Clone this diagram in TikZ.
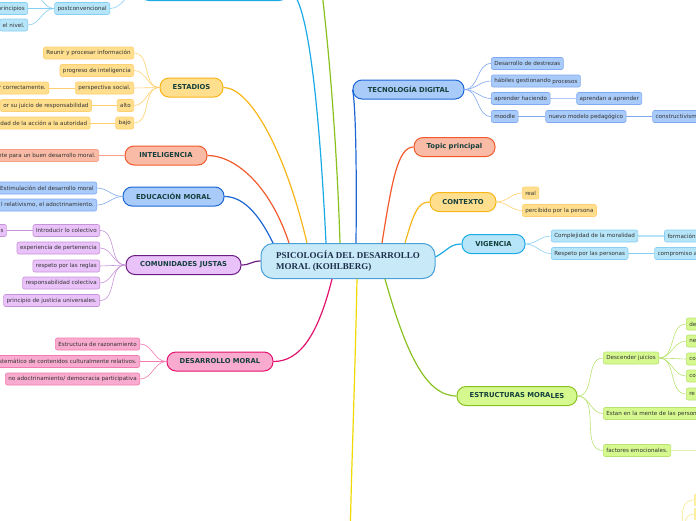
\documentclass[tikz,border=0pt]{standalone}
\usepackage{fontspec}
\setmainfont{DejaVu Sans}
\newfontfamily\rootfont{Liberation Serif}
\usepackage{tikz}
\usetikzlibrary{positioning}
\usepackage{xcolor}
\definecolor{rootfill}{RGB}{200,234,248}
\definecolor{rootline}{RGB}{74,160,216}
\definecolor{rootink}{RGB}{28,46,74}
\definecolor{mainink}{RGB}{20,63,60}
\definecolor{leafink}{RGB}{50,50,50}
\definecolor{ambar}{RGB}{247,181,23}
\definecolor{ambarfill}{RGB}{255,223,142}
\definecolor{ambarleaf}{RGB}{255,207,112}
\definecolor{coral}{RGB}{242,90,44}
\definecolor{coralfill}{RGB}{249,187,166}
\definecolor{coralleaf}{RGB}{247,160,134}
\definecolor{azul}{RGB}{28,102,214}
\definecolor{azulfill}{RGB}{169,203,249}
\definecolor{azulleaf}{RGB}{127,168,240}
\definecolor{celeste}{RGB}{26,170,230}
\definecolor{celestefill}{RGB}{182,229,249}
\definecolor{celesteleaf}{RGB}{134,206,242}
\definecolor{violeta}{RGB}{107,28,130}
\definecolor{violetafill}{RGB}{233,194,249}
\definecolor{violetaleaf}{RGB}{199,147,216}
\definecolor{rosa}{RGB}{227,18,108}
\definecolor{rosafill}{RGB}{249,171,207}
\definecolor{rosaleaf}{RGB}{242,123,176}
\definecolor{verde}{RGB}{137,194,31}
\definecolor{verdefill}{RGB}{213,249,143}
\definecolor{verdeleaf}{RGB}{185,226,113}
\definecolor{limon}{RGB}{239,217,0}
\definecolor{limonfill}{RGB}{255,243,160}
\definecolor{limonleaf}{RGB}{247,233,138}

\begin{document}
\begin{tikzpicture}[x=1pt, y=-1pt,
  root/.style={draw=rootline, fill=rootfill, line width=1pt, rounded corners=12pt,
    minimum width=174pt, minimum height=35pt, align=left, text=rootink,
    font=\rootfont\bfseries\fontsize{9}{11}\selectfont},
  topic/.style={draw=#1, fill=#1fill, line width=1pt, rounded corners=9pt,
    minimum height=19pt, inner sep=0pt, text=mainink,
    font=\bfseries\fontsize{6.8}{8}\selectfont},
  leaf/.style={draw=#1leaf, fill=#1fill, line width=0.6pt, rounded corners=2pt,
    minimum height=12pt, inner xsep=3pt, inner ysep=0pt, text=leafink,
    font=\fontsize{5.6}{6.5}\selectfont},
  trunk/.style={draw=#1, line width=1.2pt},
  twig/.style={draw=#1leaf, line width=0.6pt}]
  \useasboundingbox (0,0) rectangle (696,520);
  \clip (0,0) rectangle (696,520);

  % central topic
  \node[root] (psico) at (348,261) {PSICOLOGÍA DEL DESARROLLO\\MORAL (KOHLBERG)};

  % main topics, left side
  \node[topic=celeste, minimum width=148pt] (niveles) at (214,-9) {};
  \node[topic=ambar, minimum width=63pt] (estadios) at (191.5,87.5) {ESTADIOS};
  \node[topic=coral, minimum width=82pt] (inteligencia) at (166,155.5) {INTELIGENCIA};
  \node[topic=azul, minimum width=101pt] (educacion) at (173.5,196.5) {EDUCACIÓN MORAL};
  \node[topic=violeta, minimum width=115pt] (comunidades) at (183.5,265) {COMUNIDADES JUSTAS};
  \node[topic=rosa, minimum width=106pt] (desarrollo) at (220,361.5) {DESARROLLO MORAL};

  % main topics, right side
  \node[topic=azul, minimum width=111pt] (tecnologia) at (408.5,89.5) {TECNOLOGÍA DIGITAL};
  \node[topic=coral, minimum width=81pt] (topicp) at (454.5,147) {Topic principal};
  \node[topic=ambar, minimum width=66pt] (contexto) at (463,202) {CONTEXTO};
  \node[topic=celeste, minimum width=63pt] (vigencia) at (493.5,244) {VIGENCIA};
  \node[topic=verde, minimum width=120pt] (estructuras) at (517,396) {ESTRUCTURAS MORA\raisebox{-1pt}{LES}};

  % branches leaving the page
  \coordinate (arriba) at (318,-40);
  \coordinate (abajo) at (350,545);

  % trunks from the centre
  \draw[trunk=azul] ([xshift=-75pt]psico.north) .. controls (258,212) and (242,196.5) .. (educacion.east);
  \draw[trunk=coral] ([xshift=-59pt]psico.north) .. controls (270,185) and (235,155.5) .. (inteligencia.east);
  \draw[trunk=ambar] ([xshift=-41pt]psico.north) .. controls (285,150) and (250,87.5) .. (estadios.east);
  \draw[trunk=celeste] ([xshift=-22pt]psico.north) .. controls (318,80) and (305,-9) .. (niveles.east);
  \draw[trunk=verde] ([xshift=-8pt]psico.north) .. controls (336,120) and (326,20) .. (arriba);
  \draw[trunk=azul] ([xshift=8pt]psico.north) .. controls (357,150) and (355,100) .. (tecnologia.west);
  \draw[trunk=coral] ([xshift=34pt]psico.north) .. controls (392,180) and (398,147) .. (topicp.west);
  \draw[trunk=ambar] ([xshift=57pt]psico.north) .. controls (414,212) and (418,202) .. (contexto.west);
  \draw[trunk=celeste] ([yshift=4pt]psico.east) .. controls (448,250) and (450,244) .. (vigencia.west);
  \draw[trunk=violeta] (psico.west) .. controls (252,261) and (250,265) .. (comunidades.east);
  \draw[trunk=rosa] ([xshift=-16pt]psico.south) .. controls (318,335) and (300,361.5) .. (desarrollo.east);
  \draw[trunk=limon] ([xshift=9pt]psico.south) .. controls (355,380) and (351,480) .. (abajo);
  \draw[trunk=verde] ([xshift=37pt]psico.south) .. controls (405,350) and (425,396) .. (estructuras.west);

  % niveles (cut at the top)
  \node[leaf=celeste, anchor=east] (postconv) at (110,8.5) {postconvencional};
  \node[leaf=celeste, anchor=east] (principios) at (28,8.5) {principios};
  \node[leaf=celeste, anchor=east] (nivel) at (28,25) {el nivel.};
  \coordinate (otronivel) at (28,-10);
  \draw[twig=celeste] (postconv.east) to[out=0,in=180] (niveles.west);
  \draw[twig=celeste] (postconv.west) -- (principios.east);
  \draw[twig=celeste] (postconv.west) to[out=180,in=0] (nivel.east);
  \draw[twig=celeste] (postconv.west) to[out=180,in=0] (otronivel);

  % estadios
  \node[leaf=ambar, anchor=east] (reunir) at (134,53) {Reunir y procesar información};
  \node[leaf=ambar, anchor=east] (progreso) at (134,70.5) {progreso de inteligencia};
  \node[leaf=ambar, anchor=east] (perspectiva) at (134,88) {perspectiva social.};
  \node[leaf=ambar, anchor=east] (alto) at (134,105.5) {alto};
  \node[leaf=ambar, anchor=east] (bajo) at (134,123) {bajo};
  \node[leaf=ambar, left=26pt of perspectiva] (correcta) {r correctamente.};
  \node[leaf=ambar, left=25pt of alto] (juicio) {or su juicio de responsabilidad};
  \node[leaf=ambar, left=25pt of bajo] (autoridad) {dad de la acción a la autoridad};
  \draw[twig=ambar] (estadios.west) to[out=180,in=0] (reunir.east);
  \draw[twig=ambar] (estadios.west) to[out=180,in=0] (progreso.east);
  \draw[twig=ambar] (estadios.west) -- (perspectiva.east);
  \draw[twig=ambar] (estadios.west) to[out=180,in=0] (alto.east);
  \draw[twig=ambar] (estadios.west) to[out=180,in=0] (bajo.east);
  \draw[twig=ambar] (perspectiva.west) -- (correcta.east);
  \draw[twig=ambar] (alto.west) -- (juicio.east);
  \draw[twig=ambar] (bajo.west) -- (autoridad.east);

  % inteligencia
  \node[leaf=coral, anchor=east] (buen) at (99,155.5) {nte para un buen desarrollo moral.};
  \draw[twig=coral] (inteligencia.west) -- (buen.east);

  % educacion moral
  \node[leaf=azul, anchor=east] (estimulo) at (97,188) {Estimulación del desarrollo moral};
  \node[leaf=azul, anchor=east] (relativismo) at (97,205) {l relativismo, el adoctrinamiento.};
  \draw[twig=azul] (educacion.west) to[out=180,in=0] (estimulo.east);
  \draw[twig=azul] (educacion.west) to[out=180,in=0] (relativismo.east);

  % comunidades justas
  \node[leaf=violeta, anchor=east] (introducir) at (100,230.5) {Introducir lo colectivo};
  \node[leaf=violeta, anchor=east] (pertenencia) at (100,248) {experiencia de pertenencia};
  \node[leaf=violeta, anchor=east] (reglas) at (100,266) {respeto por las reglas};
  \node[leaf=violeta, anchor=east] (colectiva) at (100,283) {responsabilidad colectiva};
  \node[leaf=violeta, anchor=east] (universal) at (100,300.5) {principio de justicia universales.};
  \node[leaf=violeta, left=26pt of introducir] (colectivo) {\hspace*{10pt}s};
  \draw[twig=violeta] (comunidades.west) to[out=180,in=0] (introducir.east);
  \draw[twig=violeta] (comunidades.west) to[out=180,in=0] (pertenencia.east);
  \draw[twig=violeta] (comunidades.west) -- (reglas.east);
  \draw[twig=violeta] (comunidades.west) to[out=180,in=0] (colectiva.east);
  \draw[twig=violeta] (comunidades.west) to[out=180,in=0] (universal.east);
  \draw[twig=violeta] (introducir.west) -- (colectivo.east);

  % desarrollo moral
  \node[leaf=rosa, anchor=east] (razonamiento) at (140,344) {Estructura de razonamiento};
  \node[leaf=rosa, anchor=east] (contenidos) at (140,361.5) {istemático de contenidos culturalmente relativos.};
  \node[leaf=rosa, anchor=east] (democracia) at (140,379) {no adoctrinamiento/ democracia participativa};
  \draw[twig=rosa] (desarrollo.west) to[out=180,in=0] (razonamiento.east);
  \draw[twig=rosa] (desarrollo.west) -- (contenidos.east);
  \draw[twig=rosa] (desarrollo.west) to[out=180,in=0] (democracia.east);

  % tecnologia digital
  \node[leaf=azul, anchor=west] (destrezas) at (491,63.5) {Desarrollo de destrezas};
  \node[leaf=azul, anchor=west] (habiles) at (491,81) {hábiles gestionando \raisebox{-1.2pt}{procesos}};
  \node[leaf=azul, anchor=west] (haciendo) at (491,98.5) {aprender haciendo};
  \node[leaf=azul, anchor=west] (moodle) at (491,116.5) {moodle};
  \node[leaf=azul, right=26pt of haciendo] (aprendan) {aprendan a aprender};
  \node[leaf=azul, right=27pt of moodle] (modelo) {nuevo modelo pedagógico};
  \node[leaf=azul, right=26pt of modelo] (constructivismo) {constructivismo\hspace*{10pt}};
  \draw[twig=azul] (tecnologia.east) to[out=0,in=180] (destrezas.west);
  \draw[twig=azul] (tecnologia.east) to[out=0,in=180] (habiles.west);
  \draw[twig=azul] (tecnologia.east) to[out=0,in=180] (haciendo.west);
  \draw[twig=azul] (tecnologia.east) to[out=0,in=180] (moodle.west);
  \draw[twig=azul, line width=1.2pt, opacity=0.6] (haciendo.east) -- (aprendan.west);
  \draw[twig=azul] (moodle.east) -- (modelo.west);
  \draw[twig=azul] (modelo.east) -- (constructivismo.west);

  % contexto
  \node[leaf=ambar, anchor=west] (real) at (522,193) {real};
  \node[leaf=ambar, anchor=west] (percibido) at (522,210.5) {percibido por la persona};
  \draw[twig=ambar] (contexto.east) to[out=0,in=180] (real.west);
  \draw[twig=ambar] (contexto.east) to[out=0,in=180] (percibido.west);

  % vigencia
  \node[leaf=celeste, anchor=west] (complejidad) at (551,236) {Complejidad de la moralidad};
  \node[leaf=celeste, anchor=west] (respeto) at (551,253.5) {Respeto por las personas};
  \node[leaf=celeste, right=26pt of complejidad] (formacion) {formación\hspace*{10pt}};
  \node[leaf=celeste, right=26pt of respeto] (compromiso) {compromiso a\hspace*{10pt}};
  \draw[twig=celeste] (vigencia.east) to[out=0,in=180] (complejidad.west);
  \draw[twig=celeste] (vigencia.east) to[out=0,in=180] (respeto.west);
  \draw[twig=celeste, line width=1.2pt, opacity=0.6] (complejidad.east) -- (formacion.west);
  \draw[twig=celeste] (respeto.east) -- (compromiso.west);

  % estructuras morales
  \node[leaf=verde, anchor=west] (juicios) at (603,358) {Descender juicios};
  \node[leaf=verde, anchor=west] (mente) at (603,413.5) {Estan en la mente de las person\hspace*{10pt}};
  \node[leaf=verde, anchor=west] (emociones) at (603,450.5) {factores emocionales.};
  \coordinate (emocionfin) at (710,450.5);
  \node[leaf=verde, anchor=west] (j1) at (686,324) {de\hspace*{10pt}};
  \node[leaf=verde, anchor=west] (j2) at (686,341) {ne\hspace*{10pt}};
  \node[leaf=verde, anchor=west] (j3) at (686,359) {co\hspace*{10pt}};
  \node[leaf=verde, anchor=west] (j4) at (686,376) {co\hspace*{10pt}};
  \node[leaf=verde, anchor=west] (j5) at (686,394) {re\hspace*{10pt}};
  \draw[twig=verde] (estructuras.east) to[out=0,in=180] (juicios.west);
  \draw[twig=verde] (estructuras.east) to[out=0,in=180] (mente.west);
  \draw[twig=verde] (estructuras.east) to[out=0,in=180] (emociones.west);
  \draw[twig=verde, line width=1.2pt, opacity=0.5] (emociones.east) -- (emocionfin);
  \draw[twig=verde] (juicios.east) to[out=0,in=180] (j1.west);
  \draw[twig=verde] (juicios.east) to[out=0,in=180] (j2.west);
  \draw[twig=verde] (juicios.east) -- (j3.west);
  \draw[twig=verde] (juicios.east) to[out=0,in=180] (j4.west);
  \draw[twig=verde] (juicios.east) to[out=0,in=180] (j5.west);

  % yellow branch below the page
  \coordinate (limonhub) at (684,545);
  \node[leaf=limon, anchor=west] (lim1) at (694,500) {\hspace*{6pt}};
  \node[leaf=limon, anchor=west] (lim2) at (694,514) {\hspace*{6pt}};
  \draw[twig=limon] (limonhub) to[out=90,in=180] (lim1.west);
  \draw[twig=limon] (limonhub) to[out=90,in=180] (lim2.west);
\end{tikzpicture}
\end{document}
